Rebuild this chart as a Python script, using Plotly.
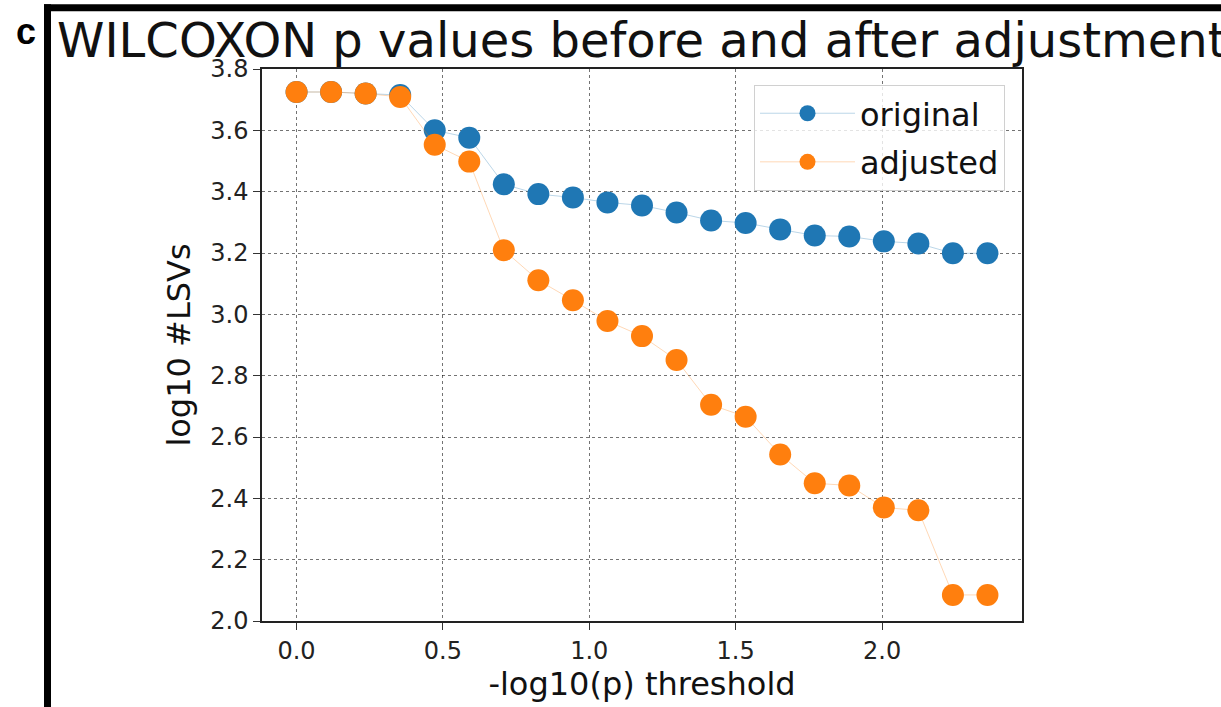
import plotly.graph_objects as go

thresholds = [0.0, 0.118, 0.236, 0.354, 0.472, 0.590, 0.708, 0.826, 0.944, 1.062, 1.180,
              1.298, 1.416, 1.534, 1.652, 1.770, 1.888, 2.006, 2.124, 2.242, 2.360]
original = [3.725, 3.725, 3.720, 3.715, 3.600, 3.576, 3.424, 3.392, 3.381, 3.365, 3.355,
            3.332, 3.306, 3.298, 3.277, 3.257, 3.254, 3.238, 3.231, 3.199, 3.199]
adjusted = [3.725, 3.725, 3.720, 3.709, 3.553, 3.498, 3.209, 3.111, 3.046, 2.978, 2.929,
            2.851, 2.705, 2.666, 2.543, 2.449, 2.442, 2.370, 2.361, 2.085, 2.085]
x_ticks = [0.0, 0.5, 1.0, 1.5, 2.0]
y_ticks = [2.0, 2.2, 2.4, 2.6, 2.8, 3.0, 3.2, 3.4, 3.6, 3.8]

W, H = 1221, 707
L, R, T, B = 262, 1022, 69, 623
FONT = "DejaVu Sans"

fig = go.Figure()
fig.add_trace(go.Scatter(x=thresholds, y=original, mode="lines+markers", name="original",
                         legendgroup="o",
                         line=dict(color="rgba(31,119,180,0.3)", width=1),
                         marker=dict(color="#1f77b4", size=22)))
fig.add_trace(go.Scatter(x=thresholds, y=adjusted, mode="lines+markers", name="adjusted",
                         legendgroup="a",
                         line=dict(color="rgba(255,127,14,0.3)", width=1),
                         marker=dict(color="#ff7f0e", size=22)))

def px_x(p):
    return (p - L) / (R - L)

def px_y(p):
    return (B - p) / (B - T)

axis_common = dict(showline=True, linecolor="#222", linewidth=1.5, mirror=True,
                   ticks="outside", ticklen=7, tickwidth=1.2, tickcolor="#333",
                   showgrid=True, gridcolor="rgba(0,0,0,0.55)", gridwidth=1, griddash="dot",
                   zeroline=False, tickfont=dict(family=FONT, size=24, color="#222"))

fig.update_layout(
    width=W, height=H,
    margin=dict(l=L, r=W - R, t=T, b=H - B),
    paper_bgcolor="white", plot_bgcolor="white",
    showlegend=True,
    legend=dict(x=px_x(1005), y=px_y(85), xanchor="right", yanchor="top",
                bgcolor="rgba(255,255,255,0.8)", bordercolor="#d0d0d0", borderwidth=1,
                font=dict(family=FONT, size=32, color="#111"), itemwidth=95,
                tracegroupgap=4),
    title=dict(text="WILCOXON p values before and after adjustment",
               xref="container", yref="container", x=57 / W, y=1 - 40 / H,
               xanchor="left", yanchor="middle",
               font=dict(family=FONT, size=48, color="#111")),
)
fig.update_xaxes(range=[-0.118, 2.478], tickvals=x_ticks,
                 ticktext=[f"{v:.1f}" for v in x_ticks],
                 title=dict(text="-log10(p) threshold", font=dict(family=FONT, size=32, color="#111"),
                            standoff=8),
                 **axis_common)
fig.update_yaxes(range=[2.0, 3.8], tickvals=y_ticks,
                 ticktext=[f"{v:.1f}" for v in y_ticks],
                 title=dict(text="log10 #LSVs", font=dict(family=FONT, size=32, color="#111"),
                            standoff=10),
                 **axis_common)

# panel frame and label
fig.add_shape(type="rect", xref="paper", yref="paper",
              x0=px_x(44), x1=px_x(51), y0=px_y(710), y1=px_y(4),
              fillcolor="black", line=dict(width=0), layer="above")
fig.add_shape(type="rect", xref="paper", yref="paper",
              x0=px_x(44), x1=px_x(1225), y0=px_y(11), y1=px_y(4),
              fillcolor="black", line=dict(width=0), layer="above")
fig.add_annotation(text="<b>c</b>", xref="paper", yref="paper", x=px_x(26), y=px_y(31),
                   xanchor="center", yanchor="middle", showarrow=False,
                   font=dict(family="Liberation Sans", size=36, color="black"))

fig.write_html("out.html", config={"displayModeBar": False},
               post_script="document.body.style.margin='0';")
